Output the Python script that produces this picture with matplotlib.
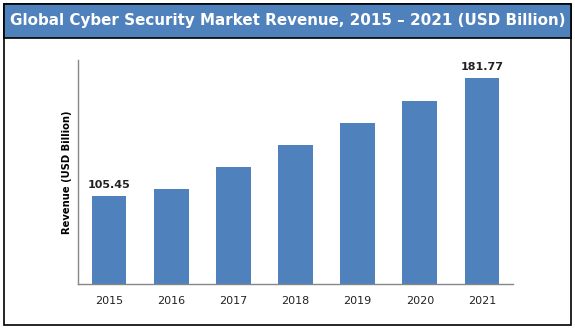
import matplotlib
matplotlib.use("Agg")
import matplotlib.pyplot as plt
from matplotlib.patches import Rectangle

years = ["2015", "2016", "2017", "2018", "2019", "2020", "2021"]
revenue = [105.45, 110.0, 124.2, 138.4, 152.8, 166.9, 181.77]
labels = {0: "105.45", 6: "181.77"}

W, H = 575, 329
fig = plt.figure(figsize=(W / 100, H / 100), dpi=100)
fig.patch.set_facecolor("white")

# outer border
fig.patches.append(Rectangle((4 / W, 4 / H), 567 / W, 321 / H, transform=fig.transFigure,
                             facecolor="none", edgecolor="black", linewidth=1.2, zorder=-2))
# title bar
fig.patches.append(Rectangle((4 / W, (H - 38) / H), 567 / W, 34 / H, transform=fig.transFigure,
                             facecolor="#4F81BD", edgecolor="black", linewidth=1.2, zorder=-1))
fig.text(287.5 / W, (H - 21) / H, "Global Cyber Security Market Revenue, 2015 \u2013 2021 (USD Billion)",
         color="white", fontsize=10.9, fontweight="bold", ha="center", va="center",
         family="DejaVu Sans")

ax = fig.add_axes([78 / W, (H - 284) / H, 435 / W, 224 / H])
ax.set_facecolor("none")
ax.set_zorder(2)
x = list(range(len(years)))
ax.bar(x, revenue, width=0.56, color="#4F81BD", zorder=2)
ax.set_xlim(-0.5, len(years) - 0.5)
ax.set_ylim(48.5, 193.4)
ax.set_xticks(x)
ax.set_xticklabels(years, fontsize=8, color="#222222")
ax.tick_params(axis="x", length=0, pad=9)
ax.set_yticks([])
for s in ["top", "right"]:
    ax.spines[s].set_visible(False)
for s in ["left", "bottom"]:
    ax.spines[s].set_color("#868686")
    ax.spines[s].set_linewidth(1)
for i, t in labels.items():
    ax.annotate(t, (i, revenue[i]), xytext=(0, 4), textcoords="offset points",
                ha="center", va="bottom", fontsize=8, fontweight="bold", color="#222222")
ax.set_ylabel("Revenue (USD Billion)", fontsize=7.2, fontweight="bold", labelpad=4)

fig.savefig("out.png", dpi=100)
